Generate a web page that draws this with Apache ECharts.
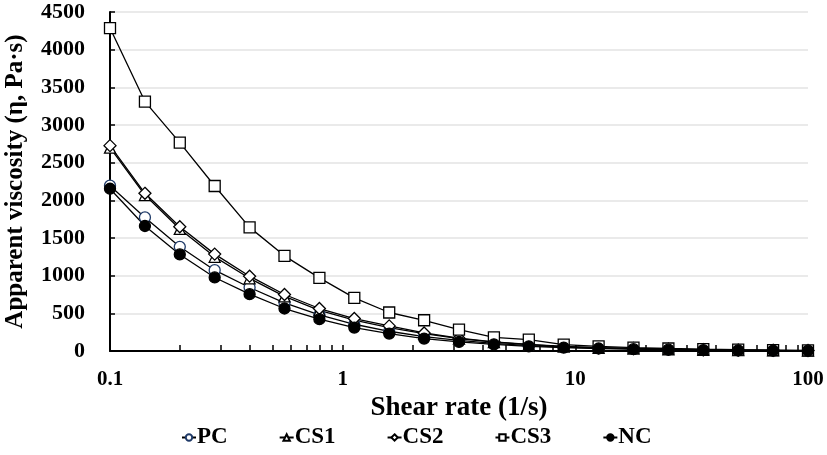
<!DOCTYPE html>
<html><head><meta charset="utf-8">
<script src="https://cdn.jsdelivr.net/npm/echarts@6/dist/echarts.min.js"></script>
<style>html,body{margin:0;padding:0;background:#fff}#c{width:827px;height:455px}</style>
</head><body><div id="c"></div>
<script>
const shearRate = [0.1, 0.1413, 0.1995, 0.2818, 0.3981, 0.5623, 0.7943, 1.122, 1.585, 2.239, 3.162, 4.467, 6.310, 8.913, 12.59, 17.78, 25.12, 35.48, 50.12, 70.79, 100];
const PC  = [2194, 1773, 1383, 1073, 843, 640, 480, 355, 262, 192, 140, 100, 72, 52, 38, 28, 20, 14, 10, 7, 5];
const CS1 = [2700, 2070, 1620, 1250, 965, 725, 540, 410, 310, 230, 165, 118, 84, 58, 42, 31, 22, 16, 12, 8, 6];
const CS2 = [2726, 2093, 1649, 1286, 993, 750, 564, 431, 333, 240, 170, 122, 88, 62, 45, 33, 24, 17, 12, 9, 6];
const CS3 = [4287, 3311, 2766, 2190, 1641, 1263, 971, 705, 511, 408, 285, 182, 152, 85, 62, 45, 33, 24, 17, 12, 9];
const NC  = [2154, 1659, 1282, 976, 754, 564, 422, 311, 231, 165, 120, 89, 62, 45, 33, 24, 17, 12, 9, 6, 4];
const xTickLabels = [0.1, 1, 10, 100];
const xMinorTicks = [0.1,0.2,0.3,0.4,0.5,0.6,0.7,0.8,0.9,1,2,3,4,5,6,7,8,9,10,20,30,40,50,60,70,80,90,100];

const F = '"Liberation Serif","Times New Roman",serif';
function pairs(v){ return shearRate.map((x,i)=>[x, v[i]]); }
function mk(name, data, symbol, fill, border, size){
  return {
    name, type:'line', data: pairs(data), symbol, symbolSize: size,
    lineStyle:{color:'#000', width:1.3},
    itemStyle:{color: fill, borderColor: border, borderWidth:1.3},
    emphasis:{disabled:true}, z: 3
  };
}
const chart = echarts.init(document.getElementById('c'));
chart.setOption({
  animation:false,
  backgroundColor:'#fff',
  grid:{left:110, right:19, top:12, bottom:104, containLabel:false, outerBoundsMode:'none'},
  xAxis:{
    type:'log', logBase:10, min:0.1, max:100,
    name:'Shear rate (1/s)', nameLocation:'middle', nameGap:27,
    nameTextStyle:{fontFamily:F, fontWeight:'bold', fontSize:27, color:'#000'},
    axisLine:{lineStyle:{color:'#000', width:2}},
    axisTick:{show:true, inside:true, length:6, customValues: xMinorTicks, lineStyle:{color:'#000', width:1.5}},
    axisLabel:{customValues: xTickLabels, fontFamily:F, fontWeight:'bold', fontSize:21, color:'#000', margin:18,
      formatter: v => String(+(+v).toPrecision(3))},
    splitLine:{show:false}, minorSplitLine:{show:false}
  },
  yAxis:{
    type:'value', min:0, max:4500, interval:500,
    name:'Apparent viscosity (η, Pa·s)', nameLocation:'middle', nameGap:82,
    nameTextStyle:{fontFamily:F, fontWeight:'bold', fontSize:25, color:'#000'},
    axisLine:{show:true, lineStyle:{color:'#000', width:2}},
    axisTick:{show:true, inside:true, length:5, lineStyle:{color:'#000', width:1.5}},
    axisLabel:{fontFamily:F, fontWeight:'bold', fontSize:22, color:'#000', margin:25, formatter: v => String(v)},
    splitLine:{show:true, lineStyle:{color:'#e3e3e3', width:1.5}}
  },
  legend:{
    bottom:1, left:176, itemGap:51, itemWidth:14, itemHeight:8,
    textStyle:{fontFamily:F, fontWeight:'bold', fontSize:23, color:'#000', padding:[0,0,0,-4]},
    data:['PC','CS1','CS2','CS3','NC']
  },
  series:[
    mk('PC', PC, 'circle', '#fff', '#1f3a68', 11),
    mk('CS1', CS1, 'triangle', '#fff', '#000', 11),
    mk('CS2', CS2, 'diamond', '#fff', '#000', 12),
    mk('CS3', CS3, 'rect', '#fff', '#000', 11),
    mk('NC', NC, 'circle', '#000', '#000', 11)
  ]
});
</script></body></html>
